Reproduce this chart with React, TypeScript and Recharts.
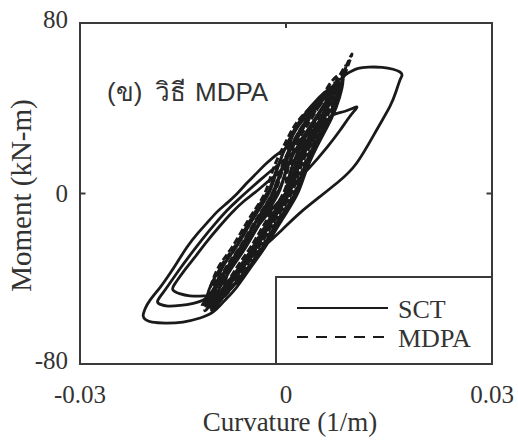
import React from "react";
import { LineChart, Line, XAxis, YAxis, ReferenceArea, ReferenceLine } from "recharts";

type Pt = [number, number];

// curvature (1/m), moment (kN-m)
const sctSmallCycles: Pt[] = [
  [0, 0], [0.0008, 12], [0.0026, 25], [0.0044, 35], [0.006, 42],
  [0.0056, 35], [0.0037, 25], [0.0018, 12], [0.0005, 0], [-0.0018, -12], [-0.0042, -25], [-0.0063, -35], [-0.0088, -44],
  [-0.0081, -35], [-0.006, -25], [-0.0036, -12], [-0.0013, 0], [0.0, 12], [0.0007, 25], [0.0026, 35], [0.0045, 42], [0.0062, 46],
  [0.0061, 42], [0.0054, 35], [0.0035, 25], [0.0016, 12], [0.0003, 0], [-0.002, -12], [-0.0044, -25], [-0.0065, -35], [-0.0091, -45], [-0.0106, -50],
  [-0.0103, -45], [-0.0093, -35], [-0.0072, -25], [-0.0048, -12], [-0.0025, 0], [-0.0012, 12], [0.0004, 25], [0.0022, 35], [0.0048, 45], [0.007, 50],
  [0.0073, 45], [0.0064, 35], [0.0045, 25], [0.0026, 12], [0.0013, 0], [-0.001, -12], [-0.0034, -25], [-0.0055, -35], [-0.0081, -45], [-0.0109, -54],
  [-0.0098, -45], [-0.0086, -35], [-0.0066, -25], [-0.0042, -12], [-0.002, 0], [-0.0006, 12], [0.0012, 25], [0.0031, 35], [0.0056, 45], [0.0076, 52],
  [0.0062, 45], [0.0042, 35], [0.0022, 25], [0.0002, 12], [-0.0011, 0], [-0.0034, -12], [-0.0058, -25], [-0.0079, -35], [-0.0098, -45], [-0.0115, -52],
  [-0.0112, -45], [-0.0095, -35], [-0.0073, -25], [-0.005, -12], [-0.0027, 0], [-0.0013, 12], [0.0005, 25], [0.0024, 35], [0.005, 45], [0.0068, 50],
  [0.0068, 45], [0.0051, 35], [0.0032, 25], [0.0013, 12], [0.0, 0], [-0.0023, -12], [-0.0047, -25], [-0.0068, -35], [-0.0088, -45], [-0.0112, -53],
  [-0.0106, -45], [-0.0086, -35], [-0.0065, -25], [-0.0041, -12], [-0.0018, 0], [-0.0005, 12], [0.0014, 25], [0.0033, 35], [0.0054, 45], [0.0076, 52],
  [0.0077, 45], [0.0065, 35], [0.0046, 25], [0.0027, 12], [0.0014, 0], [-0.0009, -12], [-0.0033, -25], [-0.0054, -35], [-0.0064, -40],
];

const sctSideLoops: Pt[] = [
  // small left loop
  [-0.0082, -44], [-0.01, -46.8], [-0.012, -48], [-0.014, -48], [-0.0155, -47], [-0.0165, -45],
  [-0.016, -41.5], [-0.015, -37], [-0.0133, -30], [-0.0115, -22.5], [-0.0097, -15.5], [-0.0079, -9], [-0.0061, -3.5],
  [-0.0045, 0.5], [-0.0023, 6.5], [0.0, 12.5], [0.0022, 18.5], [0.0043, 24.5], [0.0055, 29], [0.0064, 35.9],
  // right spike
  [0.0086, 38.6], [0.0103, 40.6], [0.0095, 37], [0.0079, 29.8], [0.006, 21.8], [0.0035, 12.4], [0.0013, 4.9],
  [-0.0009, -3.1], [-0.003, -11], [-0.0052, -20], [-0.0072, -29], [-0.009, -38], [-0.0105, -45], [-0.0118, -49.5],
  // middle left loop
  [-0.0135, -51.5], [-0.0154, -52.5], [-0.0172, -52.8], [-0.0183, -52], [-0.0187, -50.5],
  [-0.018, -47], [-0.017, -42.5], [-0.0156, -36], [-0.014, -29], [-0.0122, -21.5], [-0.0104, -14.5], [-0.0086, -8],
  [-0.007, -3], [-0.0057, 0.8], [-0.0037, 6.5], [-0.0014, 12.8], [0.001, 19], [0.0035, 25], [0.0054, 29.5],
  [0.0066, 36], [0.0073, 44], [0.0079, 50], [0.0083, 53],
  [0.0078, 45], [0.0066, 35], [0.005, 25], [0.0031, 12], [0.0017, 0], [-0.0005, -12], [-0.003, -25],
  [-0.0052, -35], [-0.0072, -44], [-0.009, -50.5], [-0.0106, -55.6],
];

const sctLargeCycle: Pt[] = [
  [-0.0125, -58.4], [-0.015, -60.3], [-0.0175, -60.8], [-0.0195, -60.4], [-0.0204, -59.3], [-0.0208, -57.5],
  [-0.0205, -54], [-0.0198, -50], [-0.0183, -43.9], [-0.017, -38], [-0.0159, -32.6], [-0.0144, -25.1],
  [-0.0128, -18.5], [-0.0115, -13.8], [-0.01, -8.5], [-0.0086, -4.5], [-0.0071, 0], [-0.0057, 4.9],
  [-0.0042, 9.8], [-0.0028, 14.3], [-0.0004, 20.4], [0.002, 25.1], [0.0039, 29.8], [0.006, 33.1],
  [0.007, 40], [0.0077, 47], [0.0083, 54.2], [0.0093, 57], [0.0105, 58.7], [0.012, 59.3], [0.014, 59.2],
  [0.0156, 58.3], [0.0166, 57], [0.0169, 55.5], [0.0166, 53.3], [0.016, 47.6], [0.0151, 40.6], [0.0132, 29.8],
  [0.0103, 14.3], [0.0076, 5.4], [0.0049, -1.6], [0.002, -9.2], [-0.0006, -17.1], [-0.0033, -25.1],
  [-0.0052, -30.3], [-0.0067, -35], [-0.0082, -40.6], [-0.0096, -46.7], [-0.0108, -52.3],
];

const mdpaEarly: Pt[] = [
  [0, 0], [0.0003, 12], [0.0018, 25], [0.0037, 35], [0.0054, 44], [0.0066, 48],
  [0.0062, 45], [0.0047, 35], [0.0028, 25], [0.0009, 12], [-0.0004, 0], [-0.0027, -12], [-0.0051, -25], [-0.0072, -35], [-0.0093, -45], [-0.011, -50],
  [-0.0103, -45], [-0.0088, -35], [-0.0067, -25], [-0.0043, -12], [-0.002, 0], [-0.0007, 12], [0.0012, 25], [0.0031, 35], [0.0052, 45], [0.0065, 52], [0.008, 56],
  [0.0081, 52], [0.0072, 45], [0.0058, 35], [0.0039, 25], [0.002, 12], [0.0007, 0], [-0.0016, -12], [-0.004, -25], [-0.0061, -35], [-0.0083, -45], [-0.0105, -50.5], [-0.0122, -53],
  [-0.0114, -49], [-0.0103, -45], [-0.0085, -35], [-0.0064, -25], [-0.004, -12], [-0.0017, 0], [-0.0004, 12], [0.0015, 25], [0.0034, 35], [0.0058, 45], [0.0072, 52], [0.0083, 58], [0.0087, 60],
];

const mdpaLate: Pt[] = [
  [0.0086, 58], [0.0078, 52], [0.0065, 45], [0.005, 35], [0.0031, 25], [0.0012, 12], [-0.0001, 0], [-0.0024, -12], [-0.0048, -25], [-0.0069, -35], [-0.0093, -45], [-0.0108, -51], [-0.0118, -55],
  [-0.0116, -50], [-0.0111, -45], [-0.0099, -35], [-0.0078, -25], [-0.0054, -12], [-0.0031, 0], [-0.0018, 12], [0.0001, 25], [0.002, 35], [0.0051, 45], [0.0066, 50], [0.0073, 52],
  [0.0066, 45], [0.0059, 35], [0.004, 25], [0.0021, 12], [0.0008, 0], [-0.0015, -12], [-0.0039, -25], [-0.006, -35], [-0.0081, -45], [-0.0097, -51], [-0.011, -56],
  [-0.0098, -50], [-0.0088, -45], [-0.0072, -35], [-0.0051, -25], [-0.0027, -12], [-0.0004, 0], [0.0009, 12], [0.0028, 25], [0.0047, 35], [0.0064, 45], [0.0075, 52], [0.0085, 58], [0.0096, 65.5],
  [0.0088, 58], [0.0081, 52], [0.0071, 45], [0.0063, 35], [0.0044, 25], [0.0025, 12], [0.0012, 0], [-0.0011, -12], [-0.0035, -25], [-0.0056, -35], [-0.0082, -45], [-0.0095, -50], [-0.0104, -54],
  [-0.0108, -49], [-0.0106, -45], [-0.0096, -35], [-0.0075, -25], [-0.0051, -12], [-0.0028, 0],
];

const xTicks = [-0.03, 0, 0.03];
const yTicks = [-80, 0, 80];

const toRows = (pts: Pt[]) => pts.map(([x, y]) => ({ x, y }));
const sctData = toRows([...sctSmallCycles, ...sctSideLoops, ...sctLargeCycle]);
const mdpaData = toRows([...mdpaEarly, ...mdpaLate]);

const serif = '"Liberation Serif", "Times New Roman", serif';
const ink = "#1a1a1a";
const frame = "#3a3a3a";

const YTick = (props: any) => {
  const { x, y, payload } = props;
  const dy = payload.value === 0 ? 0 : -4;
  return (
    <text x={x} y={y + dy} dy="0.355em" textAnchor="end" fontSize={25} fontFamily={serif} fill="#333">
      {payload.value}
    </text>
  );
};

export default function App() {
  return (
    // pinned to the page corner so the full 518x443 area is usable without scrollbars
    <div style={{ position: "absolute", left: 0, top: 0 }}>
      <LineChart width={518} height={443} margin={{ top: 23, right: 26, bottom: 0, left: 0 }}>
        <XAxis
          type="number"
          dataKey="x"
          domain={[-0.03, 0.03]}
          ticks={xTicks}
          interval={0}
          tickLine={false}
          axisLine={false}
          tickSize={0}
          tickMargin={21}
          height={79}
          tick={{ fontSize: 25, fill: "#333", fontFamily: serif }}
        />
        <YAxis
          type="number"
          domain={[-80, 80]}
          ticks={yTicks}
          interval={0}
          tickLine={false}
          axisLine={false}
          tickSize={0}
          tickMargin={12}
          width={80}
          tick={<YTick />}
        />
        <ReferenceArea x1={-0.03} x2={0.03} y1={-80} y2={80} fill="none" stroke={frame} strokeWidth={2} />
        <ReferenceLine segment={[{ x: 0, y: 80 }, { x: 0, y: 77.6 }]} stroke={frame} strokeWidth={2} />
        <ReferenceLine segment={[{ x: 0.03, y: 0 }, { x: 0.0292, y: 0 }]} stroke={frame} strokeWidth={2} />
        <ReferenceLine segment={[{ x: -0.03, y: 0 }, { x: -0.0292, y: 0 }]} stroke={frame} strokeWidth={2} />

        <Line
          data={sctData}
          dataKey="y"
          type="natural"
          stroke={ink}
          strokeWidth={2.8}
          strokeLinejoin="round"
          dot={false}
          isAnimationActive={false}
        />
        <Line
          data={mdpaData}
          dataKey="y"
          type="natural"
          stroke={ink}
          strokeWidth={3}
          strokeDasharray="7 3"
          dot={false}
          isAnimationActive={false}
        />

        {/* method label */}
        <text fontSize={26} fontFamily='"Liberation Sans", "DejaVu Sans", sans-serif' fill="#333" y={101}>
          <tspan x={107}>(ข)</tspan>
          <tspan x={155}>วิธี</tspan>
          <tspan x={195}>MDPA</tspan>
        </text>

        {/* legend box */}
        <rect x={276} y={277} width={216} height={87} fill="#fff" stroke={frame} strokeWidth={2} />
        <line x1={297} x2={388} y1={308} y2={308} stroke={ink} strokeWidth={2} />
        <line x1={297} x2={388} y1={337} y2={337} stroke={ink} strokeWidth={2} strokeDasharray="11 8" />
        <text x={398} y={318} fontSize={26} fontFamily={serif} fill="#333">SCT</text>
        <text x={398} y={347} fontSize={26} fontFamily={serif} fill="#333">MDPA</text>

        {/* axis titles */}
        <text x={290} y={431} textAnchor="middle" fontSize={27} fontFamily={serif} fill="#333">
          Curvature (1/m)
        </text>
        <text transform="rotate(-90)" x={-195.5} y={31} textAnchor="middle" fontSize={29} fontFamily={serif} fill="#333">
          Moment (kN-m)
        </text>
      </LineChart>
    </div>
  );
}
